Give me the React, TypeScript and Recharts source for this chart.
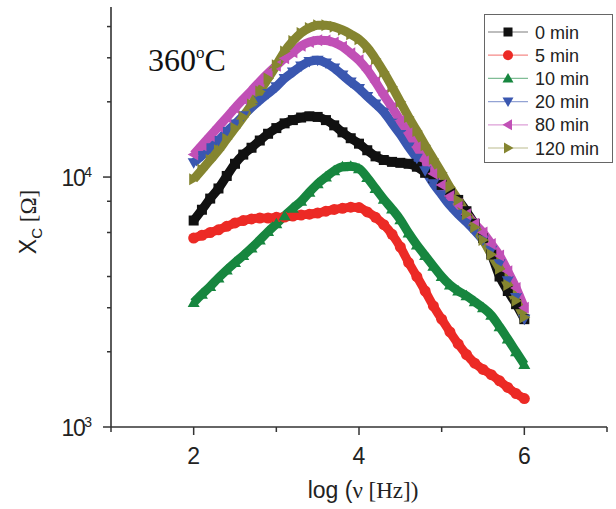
import React from "react";
import { LineChart, Line, XAxis, YAxis } from "recharts";

// log(frequency) grid shared by all curves
const LOG_F = [
  2.0, 2.1, 2.2, 2.3, 2.4, 2.5, 2.6, 2.7, 2.8, 2.9,
  3.0, 3.1, 3.2, 3.3, 3.4, 3.5, 3.6, 3.7, 3.8, 3.9,
  4.0, 4.1, 4.2, 4.3, 4.4, 4.5, 4.6, 4.7, 4.8, 4.9,
  5.0, 5.1, 5.2, 5.3, 5.4, 5.5, 5.6, 5.7, 5.8, 5.9, 6.0,
];

const XC_0 = [
  6700, 7400, 8200, 9000, 10100, 11300, 12300, 13100, 14000, 14900,
  15700, 16400, 16900, 17300, 17500, 17400, 16900, 16100, 15100, 14300,
  13600, 12800, 12100, 11700, 11500, 11400, 11300, 11000, 10400, 9900,
  9300, 8700, 8100, 7300, 6500, 5700, 4900, 4000, 3500, 3100, 2700,
];
const XC_5 = [
  5700, 5850, 6000, 6150, 6350, 6550, 6700, 6800, 6850, 6850,
  6900, 6920, 6980, 7050, 7100, 7180, 7300, 7420, 7500, 7580,
  7550, 7250, 6900, 6450, 5900, 5250, 4550, 4000, 3500, 3050,
  2700, 2400, 2150, 1950, 1800, 1700, 1620, 1530, 1440, 1360, 1300,
];
const XC_10 = [
  3150, 3400, 3650, 3950, 4250, 4550, 4850, 5200, 5600, 6050,
  6500, 7000, 7500, 8000, 8700, 9400, 10000, 10600, 11000, 11050,
  10800, 9950, 9000, 8150, 7450, 6750, 5970, 5350, 4850, 4400,
  4000, 3700, 3500, 3350, 3170, 3000, 2800, 2520, 2250, 2000, 1780,
];
const XC_20 = [
  11400, 12200, 13100, 14000, 15200, 16300, 17600, 19000, 20300, 21600,
  23000, 24800, 26300, 27800, 29000, 29300, 28600, 27300, 25600, 24000,
  22600, 21000, 19600, 18200, 16400, 14800, 13200, 11900, 10600, 9400,
  8500, 7700, 7100, 6600, 6100, 5600, 5100, 4500, 3850, 3300, 2700,
];
const XC_80 = [
  12300, 13400, 14600, 15900, 17300, 18900, 20500, 22200, 24100, 26000,
  27900, 29900, 31600, 33500, 34700, 35300, 35200, 34500, 33200, 31300,
  29300, 26800, 24000, 21300, 19000, 16800, 15000, 13200, 11600, 10300,
  9300, 8400, 7800, 7100, 6500, 6000, 5400, 4850, 4200, 3600, 3000,
];
const XC_120 = [
  9800, 10700, 11700, 12800, 14200, 15700, 17400, 19500, 22000, 24800,
  28000, 31800, 35000, 37700, 39500, 40500, 40500, 39900, 38800, 37300,
  35600, 33000, 29700, 26300, 23000, 20000, 17400, 15300, 13400, 11800,
  10400, 9100, 8100, 7100, 6300, 5600, 4900, 4300, 3700, 3200, 2750,
];

const X_TICKS = [1, 2, 3, 4, 5, 6, 7];
const Y_TICKS = [
  1000, 2000, 3000, 4000, 5000, 6000, 7000, 8000, 9000,
  10000, 20000, 30000, 40000,
];

const SANS = "'Liberation Sans', Arial, sans-serif";
const SERIF = "'Liberation Serif', 'Times New Roman', serif";
const AXIS = "#333";

type Shape = "square" | "circle" | "up" | "down" | "left" | "right";

const SERIES: { key: string; name: string; color: string; shape: Shape; values: number[] }[] = [
  { key: "m0", name: "0 min", color: "#111111", shape: "square", values: XC_0 },
  { key: "m5", name: "5 min", color: "#ec2a25", shape: "circle", values: XC_5 },
  { key: "m10", name: "10 min", color: "#17863f", shape: "up", values: XC_10 },
  { key: "m20", name: "20 min", color: "#3a57b0", shape: "down", values: XC_20 },
  { key: "m80", name: "80 min", color: "#c150b6", shape: "left", values: XC_80 },
  { key: "m120", name: "120 min", color: "#858530", shape: "right", values: XC_120 },
];

const data = LOG_F.map((x, i) => {
  const row: Record<string, number> = { x };
  SERIES.forEach((s) => (row[s.key] = s.values[i]));
  return row;
});

function Marker({ cx, cy, shape, color, r = 5 }: { cx: number; cy: number; shape: Shape; color: string; r?: number }) {
  const a = r + 0.5;
  switch (shape) {
    case "square":
      return <rect x={cx - r + 0.5} y={cy - r + 0.5} width={2 * r - 1} height={2 * r - 1} fill={color} />;
    case "circle":
      return <circle cx={cx} cy={cy} r={r} fill={color} />;
    case "up":
      return <polygon points={`${cx},${cy - a} ${cx - a},${cy + r - 1} ${cx + a},${cy + r - 1}`} fill={color} />;
    case "down":
      return <polygon points={`${cx},${cy + a} ${cx - a},${cy - r + 1} ${cx + a},${cy - r + 1}`} fill={color} />;
    case "left":
      return <polygon points={`${cx - a},${cy} ${cx + r - 1},${cy - a} ${cx + r - 1},${cy + a}`} fill={color} />;
    default:
      return <polygon points={`${cx + a},${cy} ${cx - r + 1},${cy - a} ${cx - r + 1},${cy + a}`} fill={color} />;
  }
}

const XTick = (props: any) => {
  const { x, y, payload } = props;
  const v = payload.value;
  const major = v % 2 === 0;
  return (
    <g>
      <line x1={x} x2={x} y1={y} y2={y + (major ? 8 : 5)} stroke={AXIS} strokeWidth={1.5} />
      {major && (
        <text x={x} y={y + 37} textAnchor="middle" fontSize={23} fontFamily={SANS} fill="#222">
          {v}
        </text>
      )}
    </g>
  );
};

const YTick = (props: any) => {
  const { x, y, payload } = props;
  const v = payload.value;
  const major = v === 1000 || v === 10000;
  return (
    <g>
      <line x1={x - (major ? 8 : 4)} x2={x} y1={y} y2={y} stroke={AXIS} strokeWidth={1.5} />
      {major && (
        <text x={x - 19} y={y + 9} textAnchor="end" fontSize={23} fontFamily={SANS} fill="#222">
          <tspan letterSpacing={-1.5}>10</tspan>
          <tspan dy={-9} fontSize={14}>
            {v === 1000 ? 3 : 4}
          </tspan>
        </text>
      )}
    </g>
  );
};

export default function App() {
  return (
    <div style={{ position: "absolute", left: 0, top: 0, width: 616, height: 509, background: "#fff" }}>
      <LineChart width={616} height={509} data={data} margin={{ top: 7, right: 9, bottom: 52, left: 51 }}>
        <XAxis
          dataKey="x"
          type="number"
          domain={[1, 7]}
          ticks={X_TICKS}
          allowDataOverflow
          height={30}
          tickSize={0}
          tickMargin={0}
          tick={<XTick />}
          axisLine={{ stroke: AXIS, strokeWidth: 1.6 }}
        />
        <YAxis
          type="number"
          scale="log"
          domain={[1000, 47900]}
          ticks={Y_TICKS}
          allowDataOverflow
          width={60}
          tickSize={0}
          tickMargin={0}
          tick={<YTick />}
          axisLine={{ stroke: AXIS, strokeWidth: 1.6 }}
        />
        {SERIES.map((s) => (
          <Line
            key={s.key}
            dataKey={s.key}
            type="monotone"
            stroke={s.color}
            strokeWidth={9}
            isAnimationActive={false}
            activeDot={false}
            dot={(p: any) => (
              <Marker key={`${s.key}-${p.index}`} cx={p.cx} cy={p.cy} shape={s.shape} color={s.color} r={5.5} />
            )}
          />
        ))}
      </LineChart>

      <svg width={616} height={509} style={{ position: "absolute", left: 0, top: 0, pointerEvents: "none" }}>
        <text x={148} y={71} fontFamily={SERIF} fontSize={32} fill="#111">
          360
          <tspan dy={-13} fontSize={17}>o</tspan>
          <tspan dy={13}>C</tspan>
        </text>

        <text transform="translate(36,222) rotate(-90)" textAnchor="middle" fontSize={23} fill="#222">
          <tspan fontFamily={SANS}>X</tspan>
          <tspan fontFamily={SANS} fontSize={15} dy={6}>C</tspan>
          <tspan fontFamily={SERIF} dy={-6}> [Ω]</tspan>
        </text>

        <text x={363} y={498} textAnchor="middle" fontSize={23} fill="#222">
          <tspan fontFamily={SANS}>log (</tspan>
          <tspan fontFamily={SERIF}>ν [Hz])</tspan>
        </text>

        <rect x={484.5} y={14.5} width={128} height={148} fill="#fff" stroke="#666" strokeWidth={1} />
        {SERIES.map((s, i) => {
          const cy = 32 + i * 23.2;
          return (
            <g key={s.key}>
              <line x1={488} x2={528} y1={cy} y2={cy} stroke={s.color} strokeOpacity={0.55} strokeWidth={1.2} />
              <Marker cx={508} cy={cy} shape={s.shape} color={s.color} />
              <text x={535} y={cy + 6.5} fontFamily={SANS} fontSize={18} fill="#222">
                {s.name}
              </text>
            </g>
          );
        })}
      </svg>
    </div>
  );
}
